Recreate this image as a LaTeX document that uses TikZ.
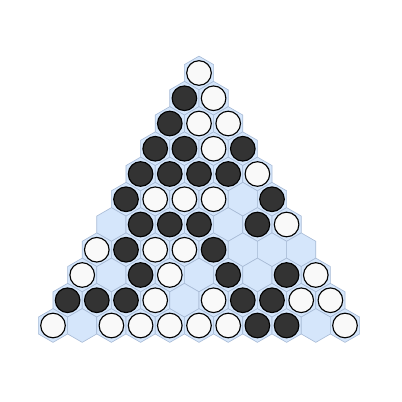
\documentclass[tikz,border=0pt]{standalone}
\usepackage{tikz}
\usetikzlibrary{shapes.geometric}
\definecolor{cellfill}{HTML}{D5E6FB}
\definecolor{celledge}{HTML}{A8BBD6}
\definecolor{darkstone}{HTML}{333333}
\definecolor{lightstone}{HTML}{F9F9F9}
\tikzstyle{cell} = [regular polygon, regular polygon sides=6, shape border rotate=30, minimum size=0.843cm, inner sep=0pt, outer sep=0pt, draw=celledge, fill=cellfill, line width=0.45pt]
\tikzstyle{stone} = [circle, minimum size=0.615cm, inner sep=0pt, draw=black, line width=0.8pt]
\tikzstyle{stone b} = [stone, fill=darkstone]
\tikzstyle{stone w} = [stone, fill=lightstone]

\begin{document}
\begin{tikzpicture}[x=0.025cm, y=-0.025cm]

\useasboundingbox (0,0) rectangle (402,402);

% board rows, top to bottom (b = black, w = white, e = empty)
\foreach \row [count=\i from 0] in {{w},{b,w},{b,w,w},{b,b,w,b},{b,b,b,b,w},{b,w,w,w,e,b},{e,b,b,b,e,b,w},{w,b,w,w,b,e,e,e},{w,e,b,w,e,b,e,b,w},{b,b,b,w,e,w,b,b,w,w},{w,e,w,w,w,w,w,b,b,e,w}}
{
  \foreach \s [count=\j from 0] in \row
  {
    \node (c-\i-\j) [cell] at ({199+(\j-\i/2)*29.2}, {73+\i*25.25}) {};
    \if\s e\else
      \node (s-\i-\j) [stone \s] at (c-\i-\j) {};
    \fi
  }
}

\end{tikzpicture}
\end{document}
